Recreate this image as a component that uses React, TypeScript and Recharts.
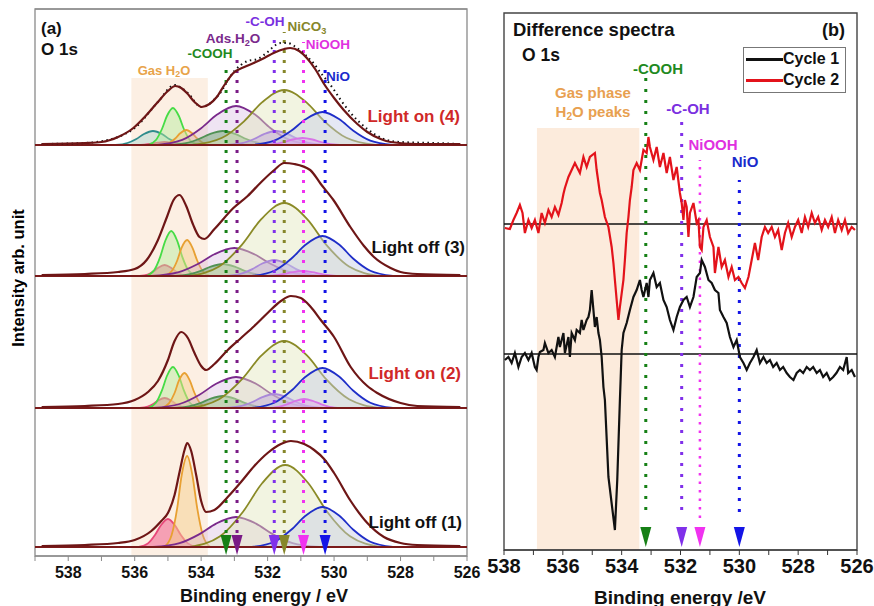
import React from "react";
import {
  Area,
  ComposedChart,
  Line,
  ReferenceArea,
  ReferenceLine,
  Scatter,
  XAxis,
  YAxis,
} from "recharts";

type P = [number, number];

// ---------- panel (a): O 1s fits (intensity above each spectrum's baseline) ----------
const TICKS_A = [539, 538, 537, 536, 535, 534, 533, 532, 531, 530, 529, 528, 527, 526];
const TICKS_B = [538, 537, 536, 535, 534, 533, 532, 531, 530, 529, 528, 527, 526];

// Light off (1)
const S1_ENV: P[] = [[538.8,1],[537.5,2],[536.5,4],[536,7],[535.5,16],[535.2,26],[535,34],[534.8,52],[534.65,75],[534.5,97],[534.42,104],[534.3,96],[534.15,72],[534,46],[533.85,35],[533.6,37],[533.2,50],[532.8,65],[532.4,81],[532,94],[531.6,103],[531.3,106],[530.9,103],[530.6,97],[530.3,88],[530,74],[529.5,46],[529,24],[528.5,10],[528,4],[527.5,2],[526.2,1]];
const S1_PINK: P[] = [[535.88,0],[535.6,3.6],[535.39,12],[535.21,21.8],[535.0,28],[534.79,21.8],[534.61,12],[534.4,3.6],[534.13,0]];
const S1_ORANGE: P[] = [[535.11,0],[534.89,11.8],[534.72,39.1],[534.59,71],[534.42,91],[534.26,71],[534.12,39.1],[533.95,11.8],[533.73,0]];
const S1_ADS: P[] = [[535.45,0],[534.65,3.9],[534.05,12.9],[533.55,23.4],[532.95,30],[532.35,23.4],[531.85,12.9],[531.25,3.9],[530.45,0]];
const S1_NICO3: P[] = [[534.35,0],[533.43,10.7],[532.74,35.3],[532.16,64],[531.47,82],[530.78,64],[530.21,35.3],[529.52,10.7],[528.6,0]];
const S1_NIO: P[] = [[532.48,0],[531.8,5.2],[531.29,17.2],[530.86,31.2],[530.35,40],[529.84,31.2],[529.42,17.2],[528.91,5.2],[528.23,0]];

// Light on (2)
const S2_ENV: P[] = [[538.8,1],[537.5,2],[536.5,4],[536,8],[535.6,16],[535.3,27],[535,48],[534.8,67],[534.6,76],[534.4,70],[534.2,55],[534,42],[533.85,38],[533.6,44],[533.2,58],[532.8,70],[532.4,82],[532,95],[531.6,107],[531.3,112],[531,110],[530.7,101],[530.4,88],[530,71],[529.5,41],[529,22],[528.7,15],[528,5],[527.5,2],[526.2,1]];
const S2_PINK: P[] = [[535.85,0],[535.61,1.3],[535.43,4.3],[535.28,7.8],[535.1,10],[534.92,7.8],[534.77,4.3],[534.59,1.3],[534.35,0]];
const S2_GREEN: P[] = [[535.6,0],[535.36,5.3],[535.18,17.6],[535.03,32],[534.85,41],[534.67,32],[534.52,17.6],[534.34,5.3],[534.1,0]];
const S2_ORANGE: P[] = [[535.19,0],[534.97,4.6],[534.8,15],[534.67,27.3],[534.5,35],[534.34,27.3],[534.2,15],[534.03,4.6],[533.81,0]];
const S2_COOH: P[] = [[534.85,0],[534.37,1.6],[534.01,5.2],[533.71,9.4],[533.35,12],[532.99,9.4],[532.69,5.2],[532.33,1.6],[531.85,0]];
const S2_ADS: P[] = [[535.45,0],[534.65,4],[534.05,13.3],[533.55,24.2],[532.95,31],[532.35,24.2],[531.85,13.3],[531.25,4],[530.45,0]];
const S2_COH: P[] = [[533.3,0],[532.82,1.8],[532.46,6],[532.16,10.9],[531.8,14],[531.44,10.9],[531.14,6],[530.78,1.8],[530.3,0]];
const S2_NICO3: P[] = [[534.38,0],[533.46,8.7],[532.77,28.8],[532.19,52.3],[531.5,67],[530.81,52.3],[530.24,28.8],[529.55,8.7],[528.63,0]];
const S2_NIOOH: P[] = [[532.03,0],[531.67,1.2],[531.4,3.9],[531.17,7],[530.9,9],[530.63,7],[530.4,3.9],[530.14,1.2],[529.78,0]];
const S2_NIO: P[] = [[532.48,0],[531.8,5.2],[531.29,17.2],[530.86,31.2],[530.35,40],[529.84,31.2],[529.42,17.2],[528.91,5.2],[528.23,0]];

// Light off (3)
const S3_ENV: P[] = [[538.8,1],[537.5,2],[536.5,4],[536,7],[535.64,16],[535.3,36],[535.03,59],[534.83,76],[534.65,81],[534.45,70],[534.25,52],[534.05,39],[533.9,37],[533.6,47],[533.03,68],[532.6,80],[532.22,93],[531.8,106],[531.5,113],[531.2,112],[530.72,106],[530.4,92],[530.02,76],[529.51,49],[529.1,30],[528.8,19],[528.3,8],[528,4],[527.5,2],[526.2,1]];
const S3_PINK: P[] = [[535.85,0],[535.61,1.4],[535.43,4.7],[535.28,8.6],[535.1,11],[534.92,8.6],[534.77,4.7],[534.59,1.4],[534.35,0]];
const S3_GREEN: P[] = [[535.65,0],[535.41,5.9],[535.23,19.4],[535.08,35.1],[534.9,45],[534.72,35.1],[534.57,19.4],[534.39,5.9],[534.15,0]];
const S3_ORANGE: P[] = [[535.11,0],[534.89,4.7],[534.72,15.5],[534.59,28.1],[534.42,36],[534.26,28.1],[534.12,15.5],[533.95,4.7],[533.73,0]];
const S3_COOH: P[] = [[534.85,0],[534.37,1.6],[534.01,5.2],[533.71,9.4],[533.35,12],[532.99,9.4],[532.69,5.2],[532.33,1.6],[531.85,0]];
const S3_ADS: P[] = [[535.5,0],[534.7,3.6],[534.1,12],[533.6,21.8],[533.0,28],[532.4,21.8],[531.9,12],[531.3,3.6],[530.5,0]];
const S3_COH: P[] = [[533.3,0],[532.82,2.1],[532.46,6.9],[532.16,12.5],[531.8,16],[531.44,12.5],[531.14,6.9],[530.78,2.1],[530.3,0]];
const S3_NICO3: P[] = [[534.38,0],[533.46,9.5],[532.77,31.4],[532.19,56.9],[531.5,73],[530.81,56.9],[530.24,31.4],[529.55,9.5],[528.63,0]];
const S3_NIOOH: P[] = [[532.2,0],[531.8,0.7],[531.5,2.2],[531.25,3.9],[530.95,5],[530.65,3.9],[530.4,2.2],[530.1,0.7],[529.7,0]];
const S3_NIO: P[] = [[532.48,0],[531.8,5.2],[531.29,17.2],[530.86,31.2],[530.35,40],[529.84,31.2],[529.42,17.2],[528.91,5.2],[528.23,0]];

// Light on (4)
const S4_ENV: P[] = [[538.8,1],[537.5,2],[537,3],[536.5,8],[536.04,17],[535.7,28],[535.33,42],[535,54],[534.78,59],[534.6,57],[534.43,52],[534.2,43],[533.98,38],[533.75,41],[533.53,48],[533.3,60],[533.03,72],[532.7,78],[532.42,82],[532.1,87],[531.82,92],[531.5,96],[531.32,97],[531.05,94],[530.82,87],[530.55,75],[530.32,62],[530,47],[529.71,35],[529.3,21],[529,13],[528.6,6],[528.3,3],[527.5,1],[526.2,1]];
const S4_RAW: P[] = [[538.8,1],[537.5,2],[536.5,8],[536,17],[535.3,43],[534.8,60],[534.4,52],[534,38],[533.5,49],[533,74],[532.6,84],[532.3,86],[532,93],[531.8,99],[531.6,102],[531.4,102],[531.2,99],[531,94],[530.8,88],[530.6,81],[530.4,72],[530.2,64],[530,55],[529.8,45],[529.5,32],[529,16],[528.5,6],[528,3],[527,2],[526.2,1]];
const S4_TEAL: P[] = [[536.58,0],[536.22,2],[535.95,6],[535.72,11],[535.45,14],[535.18,11],[534.96,6],[534.69,2],[534.33,0]];
const S4_PINK: P[] = [[535.98,0],[535.7,0.4],[535.49,1.3],[535.31,2.3],[535.1,3],[534.89,2.3],[534.71,1.3],[534.5,0.4],[534.23,0]];
const S4_GREEN: P[] = [[535.6,0],[535.36,5],[535.18,16],[535.03,29],[534.85,37],[534.67,29],[534.52,16],[534.34,5],[534.1,0]];
const S4_ORANGE: P[] = [[535.2,0],[534.96,2],[534.78,6.5],[534.63,11.7],[534.45,15],[534.27,11.7],[534.12,6.5],[533.94,2],[533.7,0]];
const S4_COOH: P[] = [[534.98,0],[534.46,1.8],[534.07,6],[533.74,10.9],[533.35,14],[532.96,10.9],[532.64,6],[532.25,1.8],[531.73,0]];
const S4_ADS: P[] = [[535.33,0],[534.57,5.1],[534.0,16.8],[533.52,30.4],[532.95,39],[532.38,30.4],[531.91,16.8],[531.34,5.1],[530.58,0]];
const S4_COH: P[] = [[533.25,0],[532.77,1.8],[532.41,6],[532.11,10.9],[531.75,14],[531.39,10.9],[531.09,6],[530.73,1.8],[530.25,0]];
const S4_NICO3: P[] = [[534.25,0],[533.37,7.2],[532.71,23.7],[532.16,42.9],[531.5,55],[530.84,42.9],[530.29,23.7],[529.63,7.2],[528.75,0]];
const S4_NIOOH: P[] = [[532.2,0],[531.8,0.9],[531.5,3],[531.25,5.5],[530.95,7],[530.65,5.5],[530.4,3],[530.1,0.9],[529.7,0]];
const S4_NIO: P[] = [[532.48,0],[531.8,4.3],[531.29,14.2],[530.86,25.7],[530.35,33],[529.84,25.7],[529.42,14.2],[528.91,4.3],[528.23,0]];

const MARKERS_A = [
  { name: "cooh", e: 533.25 },
  { name: "ads", e: 532.92 },
  { name: "coh", e: 531.8 },
  { name: "nico3", e: 531.5 },
  { name: "niooh", e: 530.92 },
  { name: "nio", e: 530.27 },
];

// ---------- panel (b): difference spectra ----------
const CYCLE2: P[] = [[537.97,-4],[537.8,-5],[537.68,4],[537.57,11],[537.46,19],[537.37,11],[537.29,-9],[537.17,4],[537.06,-4],[536.95,4],[536.83,-9],[536.72,11],[536.61,1],[536.49,14],[536.38,7],[536.27,17],[536.15,9],[536.04,21],[535.98,30],[535.93,36],[535.81,47],[535.59,61],[535.42,51],[535.3,67],[535.19,57],[535.08,67],[534.91,71],[534.85,54],[534.74,31],[534.68,24],[534.57,7],[534.45,-3],[534.34,-23],[534.28,-39],[534.23,-56],[534.17,-76],[534.11,-96],[534.06,-83],[533.94,-56],[533.89,-36],[533.83,-9],[533.77,7],[533.72,24],[533.66,37],[533.6,54],[533.49,61],[533.38,54],[533.26,74],[533.15,71],[533.09,87],[533.04,77],[532.92,64],[532.81,77],[532.7,57],[532.58,71],[532.47,51],[532.36,67],[532.24,44],[532.13,57],[532.02,31],[531.96,21],[531.9,4],[531.85,24],[531.79,17],[531.73,-13],[531.68,11],[531.56,21],[531.45,1],[531.39,4],[531.34,-23],[531.28,-26],[531.22,-3],[531.11,4],[531,-13],[530.88,-23],[530.83,-49],[530.71,-23],[530.6,-43],[530.49,-36],[530.37,-53],[530.26,-43],[530.15,-56],[530.03,-53],[529.92,-59],[529.81,-64],[529.69,-53],[529.58,-36],[529.47,-19],[529.36,-36],[529.24,-13],[529.13,-3],[529.02,-9],[528.9,-3],[528.79,-13],[528.68,-6],[528.56,-26],[528.45,-9],[528.34,1],[528.22,-13],[528.11,-3],[528,4],[527.88,-9],[527.77,7],[527.66,-3],[527.54,11],[527.43,1],[527.32,7],[527.2,-6],[527.09,4],[526.98,-3],[526.86,7],[526.75,-9],[526.64,4],[526.52,-6],[526.41,4],[526.3,-9],[526.18,-3],[526.07,-6]];
const CYCLE1: P[] = [[537.97,-6],[537.85,-3],[537.74,-9],[537.63,1],[537.51,-13],[537.4,-3],[537.29,1],[537.17,-6],[537.06,1],[536.95,-13],[536.89,-16],[536.83,-3],[536.78,2],[536.66,4],[536.61,11],[536.49,1],[536.38,4],[536.27,-3],[536.15,17],[536.1,7],[535.98,21],[535.93,1],[535.81,17],[535.76,-3],[535.7,21],[535.59,14],[535.53,24],[535.42,21],[535.36,34],[535.3,24],[535.19,34],[535.13,37],[535.08,44],[535.02,64],[534.96,44],[534.91,27],[534.85,37],[534.79,21],[534.74,14],[534.68,-3],[534.62,-33],[534.57,-46],[534.45,-123],[534.23,-176],[534.15,-126],[534.06,-46],[534,4],[533.94,21],[533.83,31],[533.72,44],[533.6,57],[533.49,64],[533.38,74],[533.32,64],[533.26,57],[533.15,71],[533.09,57],[533.04,74],[532.92,81],[532.81,67],[532.7,71],[532.58,54],[532.47,47],[532.36,34],[532.24,24],[532.13,37],[532.02,47],[531.9,54],[531.79,57],[531.68,47],[531.56,57],[531.45,77],[531.34,81],[531.28,94],[531.17,87],[531.05,74],[530.94,71],[530.83,64],[530.71,61],[530.66,44],[530.54,37],[530.43,31],[530.32,17],[530.2,7],[530.09,14],[529.98,-3],[529.86,-9],[529.75,-16],[529.64,-9],[529.52,-3],[529.41,4],[529.3,-9],[529.18,-3],[529.07,-9],[528.96,-6],[528.85,-13],[528.73,-9],[528.62,-16],[528.51,-13],[528.39,-19],[528.28,-23],[528.16,-26],[528.05,-19],[527.94,-16],[527.83,-19],[527.71,-13],[527.6,-16],[527.49,-13],[527.37,-19],[527.26,-16],[527.15,-23],[527.03,-19],[526.92,-26],[526.81,-23],[526.7,-19],[526.58,-13],[526.47,-16],[526.35,-3],[526.3,-19],[526.18,-16],[526.07,-23]];

const MARKERS_B = [
  { name: "cooh", e: 533.18 },
  { name: "coh", e: 531.96 },
  { name: "niooh", e: 531.34 },
  { name: "nio", e: 530.0 },
];

// ---------- layout / styles ----------
const OFFSETS = [9, 148, 280, 411]; // baselines of spectra (1)..(4), px-units of panel (a)
const OFF_B = { c1: 196, c2: 326 };

const SPECTRA: { env: P[]; comps: Record<string, P[]> }[] = [
  { env: S1_ENV, comps: { pink: S1_PINK, orange: S1_ORANGE, ads: S1_ADS, nico3: S1_NICO3, nio: S1_NIO } },
  { env: S2_ENV, comps: { pink: S2_PINK, green: S2_GREEN, orange: S2_ORANGE, cooh: S2_COOH, ads: S2_ADS, coh: S2_COH, nico3: S2_NICO3, niooh: S2_NIOOH, nio: S2_NIO } },
  { env: S3_ENV, comps: { pink: S3_PINK, green: S3_GREEN, orange: S3_ORANGE, cooh: S3_COOH, ads: S3_ADS, coh: S3_COH, nico3: S3_NICO3, niooh: S3_NIOOH, nio: S3_NIO } },
  { env: S4_ENV, comps: { teal: S4_TEAL, pink: S4_PINK, green: S4_GREEN, orange: S4_ORANGE, cooh: S4_COOH, ads: S4_ADS, coh: S4_COH, nico3: S4_NICO3, niooh: S4_NIOOH, nio: S4_NIO } },
];

const ORDER = ["teal", "pink", "green", "orange", "cooh", "ads", "coh", "nico3", "niooh", "nio"];

const STYLE: Record<string, { stroke: string; fill: string; op: number }> = {
  teal: { stroke: "#2e8c8c", fill: "#7fc8c8", op: 0.3 },
  pink: { stroke: "#e8487a", fill: "#f06a94", op: 0.6 },
  green: { stroke: "#46dc46", fill: "#b4ee9a", op: 0.45 },
  orange: { stroke: "#e8a032", fill: "#f6cf8e", op: 0.5 },
  cooh: { stroke: "#1e8a1e", fill: "#2f9a2f", op: 0.45 },
  ads: { stroke: "#7a2a8c", fill: "#c9a6d6", op: 0.3 },
  coh: { stroke: "#7c3cf0", fill: "#a87af0", op: 0.5 },
  nico3: { stroke: "#8a8a26", fill: "#e2e6bc", op: 0.45 },
  niooh: { stroke: "#e62ee6", fill: "#f27ef2", op: 0.45 },
  nio: { stroke: "#1f2ec8", fill: "#c6cbe6", op: 0.45 },
};

const MARK_COLOR: Record<string, string> = {
  cooh: "#168016",
  ads: "#7a1a86",
  coh: "#8030ea",
  nico3: "#86862a",
  niooh: "#f032f0",
  nio: "#1414e6",
};

// dotted guide extents [bottom, top] in axis units
const GUIDE_A: Record<string, [number, number]> = {
  cooh: [23, 488], ads: [23, 503], coh: [23, 520], nico3: [23, 524], niooh: [23, 514], nio: [23, 486],
};
const GUIDE_B: Record<string, [number, number]> = {
  cooh: [40, 472], coh: [40, 428], niooh: [32, 390], nio: [38, 370],
};

const FONT = '"Liberation Sans", Arial, sans-serif';

const toPts = (arr: P[], off: number) => arr.map(([e, v]) => ({ e, v: v + off }));

const Tri = (props: any) => {
  const { cx, cy, payload } = props;
  if (cx == null || cy == null) return null;
  return (
    <path
      d={`M${cx - 5.5},${cy - 10}L${cx + 5.5},${cy - 10}L${cx},${cy + 10}Z`}
      fill={MARK_COLOR[payload.name]}
    />
  );
};

const evenLabel = (v: number) => (v % 2 === 0 ? String(v) : "");

function Txt({ x, y, c = "#111", s = 14, a = "m", children }: any) {
  const tx = a === "m" ? "-50%" : a === "e" ? "-100%" : "0";
  return (
    <div
      style={{
        position: "absolute",
        left: x,
        top: y,
        color: c,
        fontSize: s,
        fontWeight: 700,
        lineHeight: 1,
        whiteSpace: "nowrap",
        transform: `translate(${tx}, -50%)`,
      }}
    >
      {children}
    </div>
  );
}

const Sub = ({ children }: any) => (
  <sub style={{ fontSize: "0.68em", verticalAlign: "-0.3em", lineHeight: 0 }}>{children}</sub>
);

function PanelA() {
  return (
    <ComposedChart
      width={490}
      height={606}
      margin={{ top: 9, right: 23, bottom: 20, left: 35 }}
      style={{ fontFamily: FONT }}
    >
      <XAxis
        dataKey="e"
        type="number"
        domain={[526, 539]}
        reversed
        allowDataOverflow
        ticks={TICKS_A}
        interval={0}
        tickFormatter={evenLabel}
        height={30}
        tickSize={5}
        tickMargin={6}
        stroke="#8a8a8a"
        tick={{ fill: "#111", fontSize: 16, fontWeight: 700 }}
      />
      <XAxis
        xAxisId="top"
        dataKey="e"
        type="number"
        domain={[526, 539]}
        reversed
        allowDataOverflow
        orientation="top"
        mirror
        ticks={TICKS_A}
        interval={0}
        tick={false}
        tickSize={5}
        stroke="#8a8a8a"
      />
      <YAxis dataKey="v" type="number" domain={[0, 547]} allowDataOverflow hide />
      <ReferenceArea x1={536.1} x2={533.8} y1={0} y2={478} fill="#fcefe3" fillOpacity={1} stroke="none" />
      <ReferenceArea x1={539} x2={526} y1={0} y2={547} fill="none" stroke="#8a8a8a" strokeWidth={1.3} />

      {SPECTRA.map((sp, i) => (
        <React.Fragment key={"s" + i}>
          {ORDER.filter((k) => sp.comps[k]).map((k) => (
            <Area
              key={`s${i}-${k}`}
              data={toPts(sp.comps[k], OFFSETS[i])}
              dataKey="v"
              type="monotone"
              baseValue={OFFSETS[i]}
              stroke={STYLE[k].stroke}
              strokeWidth={1.8}
              fill={STYLE[k].fill}
              fillOpacity={STYLE[k].op}
              dot={false}
              activeDot={false}
              isAnimationActive={false}
            />
          ))}
        </React.Fragment>
      ))}

      {OFFSETS.map((off) => (
        <ReferenceLine key={"b" + off} y={off} stroke="#7a1a1a" strokeWidth={2} />
      ))}

      {MARKERS_A.map((m) => (
        <ReferenceLine
          key={"ga" + m.name}
          segment={[
            { x: m.e, y: GUIDE_A[m.name][0] },
            { x: m.e, y: GUIDE_A[m.name][1] },
          ]}
          stroke={MARK_COLOR[m.name]}
          strokeWidth={3}
          strokeDasharray="3 7"
        />
      ))}

      <Line
        data={toPts(S4_RAW, OFFSETS[3])}
        dataKey="v"
        type="monotone"
        stroke="#111"
        strokeWidth={2}
        strokeDasharray="1.5 3.5"
        dot={false}
        activeDot={false}
        isAnimationActive={false}
      />
      {SPECTRA.map((sp, i) => (
        <Line
          key={"env" + i}
          data={toPts(sp.env, OFFSETS[i])}
          dataKey="v"
          type="monotone"
          stroke="#6e1616"
          strokeWidth={2.2}
          dot={false}
          activeDot={false}
          isAnimationActive={false}
        />
      ))}

      <Scatter
        data={MARKERS_A.map((m) => ({ ...m, v: 11 }))}
        dataKey="v"
        shape={Tri}
        isAnimationActive={false}
      />
    </ComposedChart>
  );
}

function PanelB() {
  return (
    <ComposedChart
      width={394}
      height={606}
      margin={{ top: 13, right: 17, bottom: 26, left: 24 }}
      style={{ fontFamily: FONT }}
    >
      <XAxis
        dataKey="e"
        type="number"
        domain={[526, 538]}
        reversed
        allowDataOverflow
        ticks={TICKS_B}
        interval={0}
        tickFormatter={evenLabel}
        height={30}
        tickSize={5}
        tickMargin={4}
        stroke="#333"
        tick={{ fill: "#111", fontSize: 20, fontWeight: 700 }}
      />
      <YAxis dataKey="v" type="number" domain={[0, 537]} allowDataOverflow hide />
      <ReferenceArea x1={536.88} x2={533.4} y1={0} y2={422} fill="#fcebdc" fillOpacity={1} stroke="none" />
      <ReferenceArea x1={538} x2={526} y1={0} y2={537} fill="none" stroke="#444" strokeWidth={1.4} />

      <ReferenceLine y={OFF_B.c2} stroke="#111" strokeWidth={1.6} />
      <ReferenceLine y={OFF_B.c1} stroke="#111" strokeWidth={1.6} />

      {MARKERS_B.map((m) => (
        <ReferenceLine
          key={"gb" + m.name}
          segment={[
            { x: m.e, y: GUIDE_B[m.name][0] },
            { x: m.e, y: GUIDE_B[m.name][1] },
          ]}
          stroke={MARK_COLOR[m.name]}
          strokeWidth={m.name === "niooh" ? 2.5 : 3}
          strokeDasharray={m.name === "niooh" ? "2.5 6" : "3 8"}
        />
      ))}

      <Line
        data={toPts(CYCLE2, OFF_B.c2)}
        dataKey="v"
        type="linear"
        stroke="#e3131b"
        strokeWidth={2.2}
        dot={false}
        activeDot={false}
        isAnimationActive={false}
      />
      <Line
        data={toPts(CYCLE1, OFF_B.c1)}
        dataKey="v"
        type="linear"
        stroke="#111"
        strokeWidth={2.2}
        dot={false}
        activeDot={false}
        isAnimationActive={false}
      />

      <Scatter
        data={MARKERS_B.map((m) => ({ ...m, v: 13 }))}
        dataKey="v"
        shape={Tri}
        isAnimationActive={false}
      />
    </ComposedChart>
  );
}

export default function App() {
  return (
    <div
      style={{
        position: "absolute",
        left: 0,
        top: 0,
        width: 874,
        height: 606,
        background: "#fff",
        fontFamily: FONT,
        overflow: "hidden",
      }}
    >
      <div style={{ position: "absolute", left: 0, top: 0 }}>
        <PanelA />
      </div>
      <div style={{ position: "absolute", left: 480, top: 0 }}>
        <PanelB />
      </div>

      {/* panel (a) text */}
      <Txt x={41} y={28} s={17} a="s">(a)</Txt>
      <Txt x={41} y={49} s={17} a="s">O 1s</Txt>
      <Txt x={164} y={70} s={13} c="#e8a34a">Gas H<Sub>2</Sub>O</Txt>
      <Txt x={210} y={54} s={13.5} c="#1f8a1f">-COOH</Txt>
      <Txt x={233} y={39} s={13.5} c="#7a2a8c">Ads.H<Sub>2</Sub>O</Txt>
      <Txt x={265} y={22} s={13.5} c="#7a30e0">-C-OH</Txt>
      <Txt x={307} y={27} s={13.5} c="#86862a">NiCO<Sub>3</Sub></Txt>
      <Txt x={328} y={45} s={13.5} c="#e030e0">NiOOH</Txt>
      <Txt x={338} y={77} s={13.5} c="#1a2acc">NiO</Txt>
      <Txt x={460} y={116} s={17} c="#d02828" a="e">Light on (4)</Txt>
      <Txt x={465} y={247} s={17} a="e">Light off (3)</Txt>
      <Txt x={461} y={373} s={17} c="#d02828" a="e">Light on (2)</Txt>
      <Txt x={462} y={522} s={17} a="e">Light off (1)</Txt>
      <Txt x={264} y={596} s={18}>Binding energy / eV</Txt>
      <div
        style={{
          position: "absolute",
          left: 18,
          top: 278,
          fontSize: 16.5,
          fontWeight: 700,
          whiteSpace: "nowrap",
          lineHeight: 1,
          transform: "translate(-50%, -50%) rotate(-90deg)",
        }}
      >
        Intensity arb. unit
      </div>

      {/* panel (b) text */}
      <Txt x={513} y={30} s={18.5} a="s">Difference spectra</Txt>
      <Txt x={845} y={30} s={18} a="e">(b)</Txt>
      <Txt x={522} y={56} s={17.5} a="s">O 1s</Txt>
      <Txt x={658} y={68} s={15} c="#1f8a1f">-COOH</Txt>
      <Txt x={593} y={92} s={15} c="#e8a050">Gas phase</Txt>
      <Txt x={593} y={111} s={15} c="#e8a050">H<Sub>2</Sub>O peaks</Txt>
      <Txt x={688} y={108} s={15} c="#7a30e0">-C-OH</Txt>
      <Txt x={713} y={144} s={15} c="#e030e0">NiOOH</Txt>
      <Txt x={745} y={161} s={15} c="#1a2acc">NiO</Txt>
      <Txt x={680} y={597} s={19}>Binding energy /eV</Txt>

      {/* legend */}
      <div
        style={{
          position: "absolute",
          left: 743,
          top: 47,
          width: 101,
          height: 44,
          border: "1px solid #777",
          background: "#fff",
        }}
      >
        <div style={{ position: "absolute", left: 2, top: 10, width: 37, height: 2.5, background: "#111" }} />
        <div style={{ position: "absolute", left: 2, top: 31, width: 37, height: 2.5, background: "#e3131b" }} />
      </div>
      <Txt x={783} y={59} s={16} a="s">Cycle 1</Txt>
      <Txt x={783} y={80} s={16} a="s">Cycle 2</Txt>
    </div>
  );
}
